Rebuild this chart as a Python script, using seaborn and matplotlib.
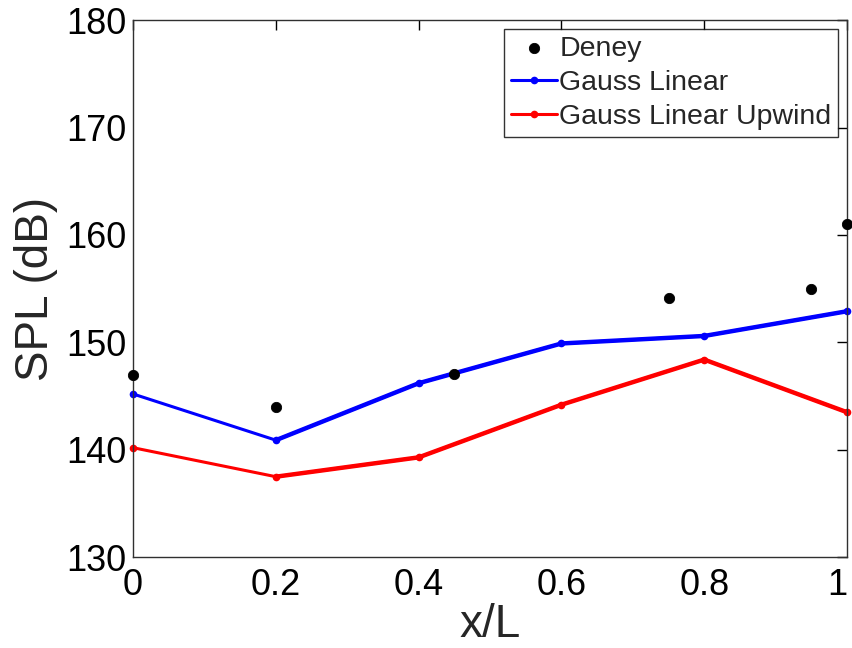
import matplotlib
matplotlib.use("Agg")
import matplotlib.pyplot as plt
import seaborn as sns
import pandas as pd
import numpy as np

deney_x = [0.0, 0.2, 0.45, 0.75, 0.95, 1.0]
deney_y = [147.0, 144.0, 147.1, 154.1, 155.0, 161.0]

sim_x = [0.0, 0.2, 0.4, 0.6, 0.8, 1.0]
gauss_linear = [145.2, 140.9, 146.2, 149.9, 150.6, 152.9]
gauss_upwind = [140.2, 137.5, 139.3, 144.2, 148.4, 143.5]

xticks = [0, 0.2, 0.4, 0.6, 0.8, 1]
xticklabels = ["0", "0.2", "0.4", "0.6", "0.8", "1"]
yticks = [130, 140, 150, 160, 170, 180]

sns.set_style("white")
plt.rcParams['font.family'] = ['Liberation Sans', 'DejaVu Sans']

fig = plt.figure(figsize=(8.53, 6.48), dpi=100)
ax = fig.add_axes([0.156, 0.140, 0.837, 0.829])

df_d = pd.DataFrame({"x": deney_x, "y": deney_y})
df_g = pd.DataFrame({"x": sim_x, "y": gauss_linear})
df_u = pd.DataFrame({"x": sim_x, "y": gauss_upwind})

sns.scatterplot(data=df_d, x="x", y="y", ax=ax, color="black", s=55,
                edgecolor="black", label="Deney", zorder=5, clip_on=False)
sns.lineplot(data=df_g, x="x", y="y", ax=ax, color="#0000ff", lw=2.2,
             marker="o", markersize=5.5, markeredgewidth=0, label="Gauss Linear",
             clip_on=False)
sns.lineplot(data=df_g.iloc[1:], x="x", y="y", ax=ax, color="#0000ff", lw=3.2,
             legend=False, clip_on=False)
sns.lineplot(data=df_u, x="x", y="y", ax=ax, color="#ff0000", lw=2.2,
             marker="o", markersize=5.5, markeredgewidth=0, label="Gauss Linear Upwind",
             clip_on=False)
sns.lineplot(data=df_u.iloc[1:], x="x", y="y", ax=ax, color="#ff0000", lw=3.2,
             legend=False, clip_on=False)

ax.set_xlim(0, 1)
ax.set_ylim(130, 180)
ax.set_xticks(xticks)
ax.set_xticklabels(xticklabels)
ax.set_yticks(yticks)
ax.tick_params(axis="both", which="both", direction="in", length=7, width=1,
               top=True, right=True, labelsize=26, colors="#000000", pad=5)
ax.tick_params(axis="x", pad=8)
ax.get_xticklabels()[-1].set_horizontalalignment("right")
for sp in ax.spines.values():
    sp.set_color("#303030")
    sp.set_linewidth(1.0)
    sp.set_visible(True)

ax.set_xlabel("x/L", fontsize=33, labelpad=0)
ax.set_ylabel("SPL (dB)", fontsize=33, labelpad=6)

leg = ax.legend(loc="upper right", fontsize=20.5, frameon=True, fancybox=False,
                edgecolor="black", handlelength=1.6, handletextpad=0.08,
                borderpad=0.25, labelspacing=0.28, borderaxespad=0.3)
leg.get_frame().set_linewidth(1.0)

fig.savefig("out.png", dpi=100, facecolor="white")
